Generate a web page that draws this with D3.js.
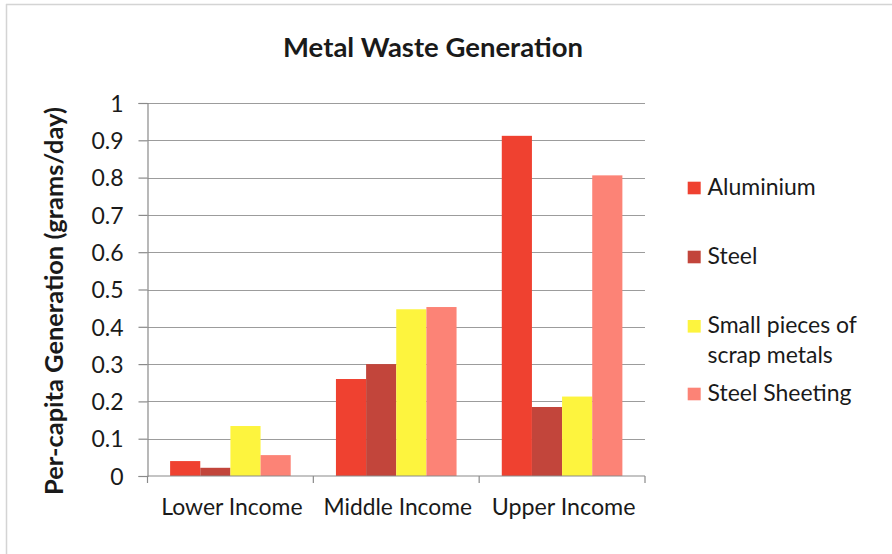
<!DOCTYPE html>
<html>
<head>
<meta charset="utf-8">
<script src="https://cdn.jsdelivr.net/npm/d3@7/dist/d3.min.js"></script>
<style>
  html, body { margin: 0; padding: 0; background: #fff; }
  svg { display: block; }
  text { font-family: Lato, "Open Sans", sans-serif; fill: #1a1a1a; }
</style>
</head>
<body>
<svg id="chart" width="892" height="554"></svg>
<script>
// Per-capita metal waste generation by income group (grams/day)
const categories = ["Lower Income", "Middle Income", "Upper Income"];
const seriesNames = ["Aluminium", "Steel", "Small pieces of scrap metals", "Steel Sheeting"];
const legendLines = [["Aluminium"], ["Steel"], ["Small pieces of", "scrap metals"], ["Steel Sheeting"]];
const aluminium = [0.04, 0.26, 0.912];
const steel = [0.022, 0.30, 0.185];
const scrapPieces = [0.134, 0.447, 0.213];
const steelSheeting = [0.056, 0.453, 0.806];
const yTicks = [0, 0.1, 0.2, 0.3, 0.4, 0.5, 0.6, 0.7, 0.8, 0.9, 1];
const colors = ["#ef4130", "#c2453b", "#fdf43e", "#fc8376"];

const seriesValues = [aluminium, steel, scrapPieces, steelSheeting];

const svg = d3.select("#chart");

// shrink or grow a text element's font so it spans the wanted width
function fitWidth(sel, target) {
  const node = sel.node();
  const fs = parseFloat(sel.attr("font-size"));
  const w = node.getComputedTextLength();
  sel.attr("font-size", (fs * target / w).toFixed(2));
  return sel;
}

// outer frame (top and left edges visible)
svg.append("line").attr("x1", 6).attr("x2", 892).attr("y1", 4.5).attr("y2", 4.5)
  .attr("stroke", "#d4d4d4").attr("stroke-width", 1.5);
svg.append("line").attr("x1", 6.5).attr("x2", 6.5).attr("y1", 4).attr("y2", 554)
  .attr("stroke", "#d4d4d4").attr("stroke-width", 1.5);

const plot = { left: 147.5, right: 645, top: 103, bottom: 476 };

const y = d3.scaleLinear().domain([0, 1]).range([plot.bottom, plot.top]);
const x0 = d3.scaleBand().domain(categories).range([plot.left, plot.right]).padding(0);
const bw = x0.bandwidth() / 5.5;
const x1 = d3.scaleBand().domain(seriesNames).range([bw * 0.75, bw * 4.75]).padding(0);

// horizontal gridlines
svg.append("g").selectAll("line").data(yTicks.filter(d => d > 0)).join("line")
  .attr("x1", plot.left).attr("x2", plot.right)
  .attr("y1", d => Math.round(y(d)) + 0.5).attr("y2", d => Math.round(y(d)) + 0.5)
  .attr("stroke", "#9c9c9c").attr("stroke-width", 1.2);

// bars
const groups = svg.append("g").selectAll("g").data(categories).join("g")
  .attr("transform", d => `translate(${x0(d)},0)`);
groups.selectAll("rect")
  .data((c, i) => seriesNames.map((s, k) => ({ s, k, v: seriesValues[k][i] })))
  .join("rect")
  .attr("x", d => x1(d.s))
  .attr("width", x1.bandwidth())
  .attr("y", d => y(d.v))
  .attr("height", d => y(0) - y(d.v))
  .attr("fill", d => colors[d.k]);

// y axis
const yAxis = svg.append("g").attr("transform", `translate(${plot.left},0)`)
  .call(d3.axisLeft(y).tickValues(yTicks).tickSize(9).tickPadding(15)
    .tickFormat(d => d3.format("")(d)));
yAxis.select(".domain").attr("stroke", "#8a8a8a").attr("stroke-width", 1.2);
yAxis.selectAll(".tick line").attr("stroke", "#8a8a8a").attr("stroke-width", 1.2);
yAxis.selectAll(".tick text").attr("font-size", 23).attr("font-family", "Lato")
  .attr("fill", "#1a1a1a").attr("dy", "0.36em");

// x axis with ticks at category boundaries
const xAxisG = svg.append("g").attr("transform", `translate(0,${plot.bottom})`);
xAxisG.append("line").attr("x1", plot.left).attr("x2", plot.right)
  .attr("stroke", "#8a8a8a").attr("stroke-width", 1.2);
const bounds = categories.map(c => x0(c)).concat([plot.right]);
xAxisG.selectAll(".bt").data(bounds).join("line").attr("class", "bt")
  .attr("x1", d => d).attr("x2", d => d).attr("y1", 0).attr("y2", 7)
  .attr("stroke", "#8a8a8a").attr("stroke-width", 1.2);
xAxisG.selectAll(".cl").data(categories).join("text").attr("class", "cl")
  .attr("x", d => x0(d) + x0.bandwidth() / 2 + 1.5)
  .attr("y", 39)
  .attr("text-anchor", "middle")
  .attr("font-size", 23)
  .text(d => d)
  .each(function(d) { fitWidth(d3.select(this), d === "Lower Income" ? 141.5 : (d === "Middle Income" ? 148.5 : 144)); });

// title
const title = svg.append("text").attr("x", 433).attr("y", 56.5)
  .attr("text-anchor", "middle").attr("font-weight", "bold").attr("font-size", 27)
  .text("Metal Waste Generation");
fitWidth(title, 300);

// y axis title
const yTitle = svg.append("text")
  .attr("transform", "translate(63,301) rotate(-90)")
  .attr("text-anchor", "middle").attr("font-weight", "bold").attr("font-size", 21)
  .text("Per-capita Generation (grams/day)");
fitWidth(yTitle, 388);

// legend
const legendTops = [181.7, 250.7, 320, 387.7];
const legend = svg.append("g");
legendLines.forEach((lines, i) => {
  legend.append("rect").attr("x", 687.7).attr("y", legendTops[i])
    .attr("width", 13).attr("height", 12.6).attr("fill", colors[i]);
  lines.forEach((ln, j) => {
    legend.append("text").attr("x", 707.5).attr("y", legendTops[i] + 13 + j * 30)
      .attr("font-size", 22).text(ln);
  });
});
// scale legend font from the longest single line
const sample = legend.selectAll("text").filter(function() { return this.textContent === "Steel Sheeting"; });
const lfs = parseFloat(fitWidth(sample, 144).attr("font-size"));
legend.selectAll("text").attr("font-size", lfs);
</script>
</body>
</html>
